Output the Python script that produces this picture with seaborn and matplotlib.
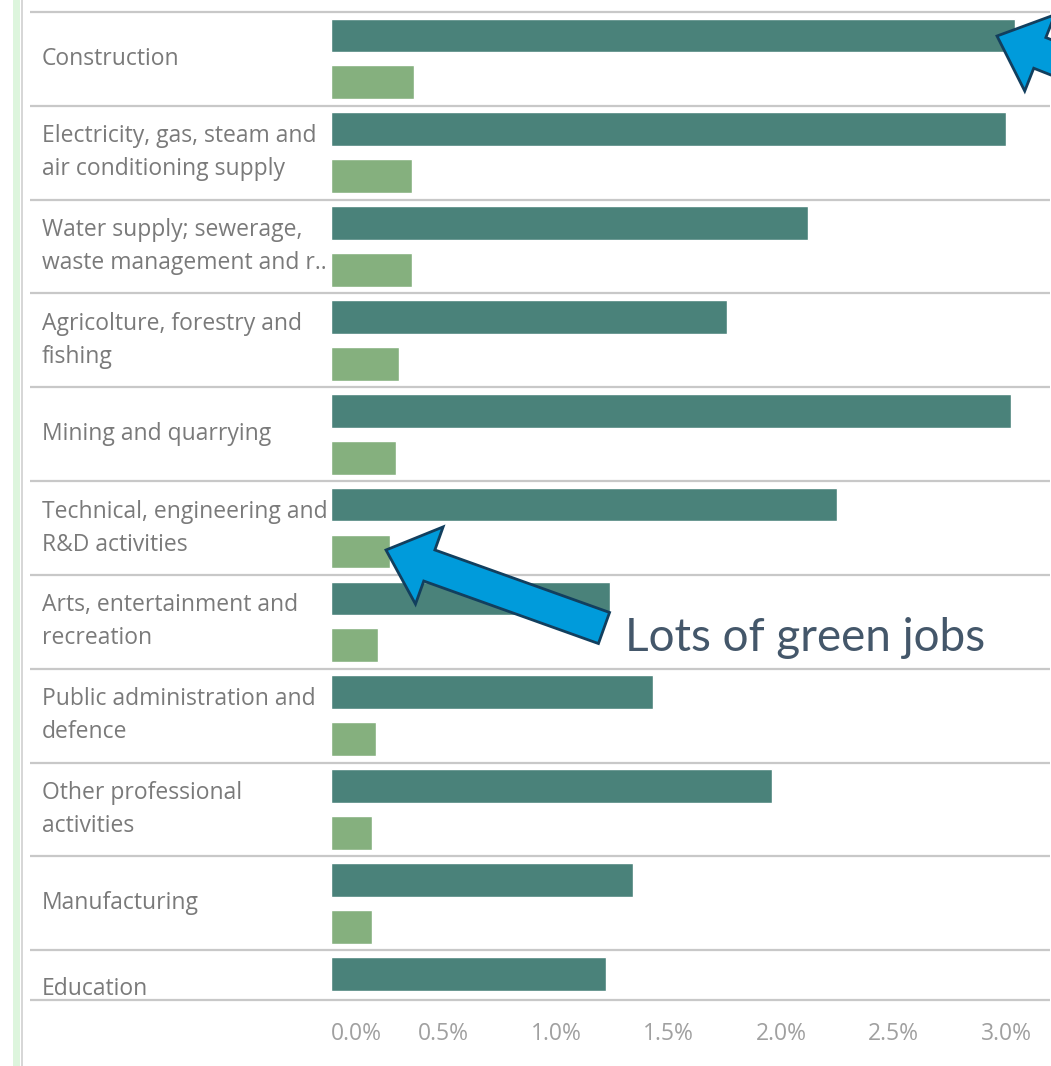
import numpy as np
import pandas as pd
import matplotlib
matplotlib.use("Agg")
import matplotlib.pyplot as plt
import matplotlib.transforms as mtransforms
from matplotlib.patches import FancyArrow
import seaborn as sns

# === data ===
categories = [
    "Construction",
    "Electricity, gas, steam and\nair conditioning supply",
    "Water supply; sewerage,\nwaste management and r..",
    "Agricolture, forestry and\nfishing",
    "Mining and quarrying",
    "Technical, engineering and\nR&D activities",
    "Arts, entertainment and\nrecreation",
    "Public administration and\ndefence",
    "Other professional\nactivities",
    "Manufacturing",
    "Education",
]
share_all = [3.04, 3.00, 2.12, 1.76, 3.02, 2.25, 1.24, 1.43, 1.96, 1.34, 1.22]
share_green = [0.37, 0.36, 0.36, 0.30, 0.29, 0.26, 0.21, 0.20, 0.18, 0.18, np.nan]
series = ["all", "green"]
xticks = [0.0, 0.5, 1.0, 1.5, 2.0, 2.5, 3.0]

dark = "#4a827a"
light = "#85b07e"

df = pd.DataFrame({
    "category": categories * 2,
    "series": [series[0]] * len(categories) + [series[1]] * len(categories),
    "value": share_all + share_green,
}).dropna()

W, H = 1051, 1066
sns.set_style("white")
plt.rcParams["font.family"] = ["Open Sans", "DejaVu Sans"]

fig = plt.figure(figsize=(W / 100, H / 100), dpi=100)
ax = fig.add_axes([331 / W, 1 - 1000 / H, 720 / W, 988 / H])

sns.barplot(data=df, y="category", x="value", hue="series", order=categories,
            hue_order=series, palette=[dark, light], orient="h",
            width=1.0, gap=0.28, legend=False, ax=ax, saturation=1)

ybottom = 10.03
ax.set_ylim(ybottom, -0.5)
ax.set_xlim(0, 3.2)
ax.set_xlabel("")
ax.set_ylabel("")
ax.set_yticks([])
for s in ax.spines.values():
    s.set_visible(False)

ax.set_xticks(xticks)
ax.set_xticklabels([f"{t:.1f}%" for t in xticks], color="#a0a0a0", fontsize=16.5)
ax.tick_params(axis="x", length=0, pad=16)
ax.get_xticklabels()[0].set_ha("left")

# row labels and separators
tr = mtransforms.blended_transform_factory(fig.transFigure, ax.transData)
for i, cat in enumerate(categories):
    y = min(i, ybottom - 0.12)
    ax.text(42 / W, y, cat, transform=tr, ha="left", va="center",
            fontsize=16.5, color="#7a7a7a", linespacing=1.5)
for y in list(np.arange(-0.5, 10, 1.0)) + [ybottom]:
    ax.plot([30 / W, 1050 / W], [y, y], transform=tr, color="#c8c8c8",
            lw=1.6, clip_on=False, solid_capstyle="butt")

# left decoration lines
fig.add_artist(plt.Line2D([16 / W, 16 / W], [0, 1], color="#ddf5dd", lw=5))
fig.add_artist(plt.Line2D([22 / W, 22 / W], [0, 1], color="#d0d0d0", lw=1.2))

# overlay for annotations (pixel coords)
ov = fig.add_axes([0, 0, 1, 1])
ov.set_xlim(0, W)
ov.set_ylim(H, 0)
ov.axis("off")
ov.patch.set_alpha(0)

def block_arrow(tail, tip):
    dx, dy = tip[0] - tail[0], tip[1] - tail[1]
    ov.add_patch(FancyArrow(tail[0], tail[1], dx, dy, width=33, head_width=82,
                            head_length=46, length_includes_head=True,
                            facecolor="#009bdb", edgecolor="#123f5e", lw=2))

block_arrow((604, 628), (386, 550))
block_arrow((1215, 122), (997, 36))

ov.text(625, 651, "Lots of green jobs", ha="left", va="baseline", fontsize=33,
        color="#44576a", family=["Lato", "DejaVu Sans"])

fig.savefig("out.png", dpi=100)
